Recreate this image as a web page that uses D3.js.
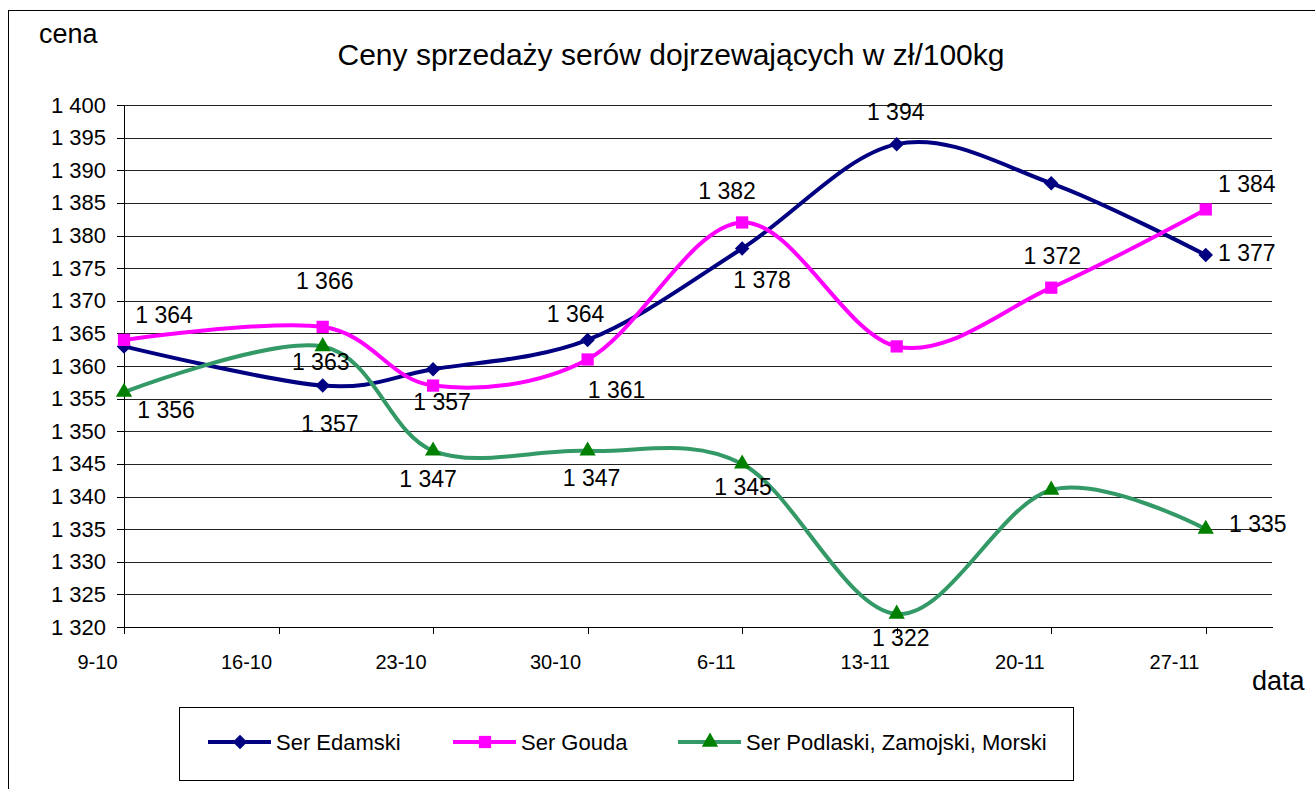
<!DOCTYPE html>
<html>
<head>
<meta charset="utf-8">
<script src="https://cdn.jsdelivr.net/npm/d3@7"></script>
<style>
  body { margin: 0; background: #fff; }
  svg text { font-family: "Liberation Sans", Arial, sans-serif; fill: #000; }
</style>
</head>
<body>
<svg id="chart" width="1315" height="789"></svg>
<script>
// dane z wykresu
const dates = ["2008-10-09", "2008-10-18", "2008-10-23", "2008-10-30", "2008-11-06", "2008-11-13", "2008-11-20", "2008-11-27"];
const edamski = [1363, 1357, 1359.5, 1364, 1378, 1394, 1388, 1377];
const gouda = [1364, 1366, 1357, 1361, 1382, 1363, 1372, 1384];
const podlaski = [1356, 1363, 1347, 1347, 1345, 1322, 1341, 1335];
const seriesNames = ["Ser Edamski", "Ser Gouda", "Ser Podlaski, Zamojski, Morski"];
const xTickDates = ["2008-10-09", "2008-10-16", "2008-10-23", "2008-10-30", "2008-11-06", "2008-11-13", "2008-11-20", "2008-11-27"];
const xDomain = ["2008-10-09", "2008-11-30"];
const yTicks = [1320, 1325, 1330, 1335, 1340, 1345, 1350, 1355, 1360, 1365, 1370, 1375, 1380, 1385, 1390, 1395, 1400];
const title = "Ceny sprzedaży serów dojrzewających w zł/100kg";

// wygląd
const lineColors = ["#000080", "#ff00ff", "#339966"];
const markerColors = ["#000080", "#ff00ff", "#008000"];
const markerTypes = ["diamond", "square", "triangle"];
// przesunięcia etykiet danych (null = etykieta ukryta)
const labelOffsets = [
    [null, [7, 38], null, [-12, -26], [20, 31], [-1, -32], null, [41, -2]],
    [[40, -25], [2, -46], [9, 16], [29, 31], [-15, -31], null, [1, -32], [41, -25]],
    [[42, 18], [-2, 16], [-5, 28], [4, 27], [1, 23], [4, 24], null, [52, -5]]
];

const plot = {left: 124, top: 105, right: 1272, bottom: 627};
const parse = d3.utcParse("%Y-%m-%d");
const pl = d3.formatLocale({decimal: ",", thousands: " ", grouping: [3], currency: ["", " zł"]});
const fmt = pl.format(",d");

const svg = d3.select('#chart');

// ramka całego wykresu
svg.append('rect')
    .attr('x', 8.5).attr('y', 10.5)
    .attr('width', 1330).attr('height', 800)
    .attr('fill', 'none').attr('stroke', '#000');

const xScale = d3.scaleUtc()
    .domain(xDomain.map(parse))
    .range([plot.left, plot.right]);

const yScale = d3.scaleLinear()
    .domain([1320, 1400])
    .range([plot.bottom, plot.top]);

// linie siatki
svg.append('g')
    .attr('transform', `translate(${plot.left},0)`)
    .call(d3.axisLeft(yScale).tickValues(yTicks).tickSize(-(plot.right - plot.left)).tickFormat(''))
    .call(g => g.select('.domain').remove())
    .selectAll('line')
    .attr('stroke', '#222')
    .attr('shape-rendering', 'crispEdges');

// oś Y
const yAxis = svg.append('g')
    .attr('transform', `translate(${plot.left},0)`)
    .call(d3.axisLeft(yScale).tickValues(yTicks).tickSize(7).tickSizeOuter(0).tickPadding(11).tickFormat(fmt));
yAxis.selectAll('line, path').attr('stroke', '#000').attr('shape-rendering', 'crispEdges');
yAxis.selectAll('text').style('font-size', '22px');

// oś X
const xAxis = svg.append('g')
    .attr('transform', `translate(0,${plot.bottom})`)
    .call(d3.axisBottom(xScale).tickValues(xTickDates.map(parse)).tickSize(7).tickSizeOuter(0)
        .tickFormat(d3.utcFormat("%-d-%m")));
xAxis.selectAll('line, path').attr('stroke', '#000').attr('shape-rendering', 'crispEdges');
xAxis.selectAll('text')
    .attr('text-anchor', 'end')
    .attr('x', -7)
    .attr('y', 28)
    .style('font-size', '20px');

// tytuły
svg.append('text')
    .attr('x', 671).attr('y', 65)
    .attr('text-anchor', 'middle')
    .style('font-size', '30px')
    .text(title);

svg.append('text')
    .attr('x', 39).attr('y', 43)
    .style('font-size', '27px')
    .text('cena');

svg.append('text')
    .attr('x', 1252).attr('y', 690)
    .style('font-size', '27px')
    .text('data');

function markerPath(type) {
    if (type === 'diamond') return d3.symbol(d3.symbolSquare, 105)();
    if (type === 'square') return d3.symbol(d3.symbolSquare, 150)();
    return d3.symbol(d3.symbolTriangle, 115)();
}

function markerTransform(type, x, y) {
    return type === 'diamond' ? `translate(${x},${y}) rotate(45)` : `translate(${x},${y})`;
}

const allSeries = [edamski, gouda, podlaski];
const points = allSeries.map(values => values.map((v, i) => ({date: parse(dates[i]), value: v})));

const line = d3.line()
    .x(d => xScale(d.date))
    .y(d => yScale(d.value))
    .curve(d3.curveCardinal.tension(0));

points.forEach((data, s) => {
    svg.append('path')
        .datum(data)
        .attr('d', line)
        .attr('fill', 'none')
        .attr('stroke', lineColors[s])
        .attr('stroke-width', 4)
        .attr('stroke-linejoin', 'round');
});

points.forEach((data, s) => {
    svg.selectAll(null)
        .data(data)
        .join('path')
        .attr('d', markerPath(markerTypes[s]))
        .attr('transform', d => markerTransform(markerTypes[s], xScale(d.date), yScale(d.value)))
        .attr('fill', markerColors[s]);
});

// etykiety danych
points.forEach((data, s) => {
    svg.selectAll(null)
        .data(data.filter((d, i) => labelOffsets[s][i]))
        .join('text')
        .attr('x', d => xScale(d.date) + labelOffsets[s][data.indexOf(d)][0])
        .attr('y', d => yScale(d.value) + labelOffsets[s][data.indexOf(d)][1])
        .attr('text-anchor', 'middle')
        .attr('dominant-baseline', 'central')
        .style('font-size', '23px')
        .text(d => fmt(Math.round(d.value)));
});

// legenda
const legend = svg.append('g');
legend.append('rect')
    .attr('x', 179.5).attr('y', 707.5)
    .attr('width', 894).attr('height', 73)
    .attr('fill', 'none').attr('stroke', '#000');

const legendX = [208, 453, 678];
seriesNames.forEach((name, s) => {
    const g = legend.append('g').attr('transform', `translate(${legendX[s]},742)`);
    g.append('line')
        .attr('x1', 0).attr('x2', 63)
        .attr('stroke', lineColors[s])
        .attr('stroke-width', 4);
    g.append('path')
        .attr('d', markerPath(markerTypes[s]))
        .attr('transform', markerTransform(markerTypes[s], 32, 0))
        .attr('fill', markerColors[s]);
    g.append('text')
        .attr('x', 68)
        .attr('dominant-baseline', 'central')
        .style('font-size', '22px')
        .text(name);
});
</script>
</body>
</html>
